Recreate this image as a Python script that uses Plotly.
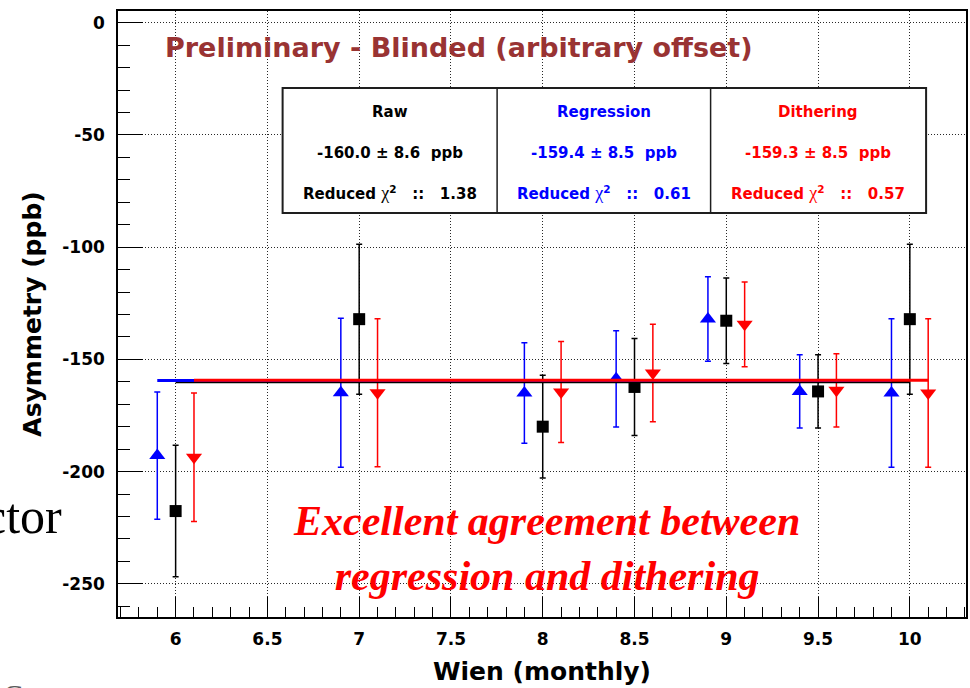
import plotly.graph_objects as go

# Monthly Wien asymmetries (ppb) for the three analyses
months = [6, 7, 8, 8.5, 9, 9.5, 10]

raw_asym = [-217.6, -132.1, -180.0, -162.3, -132.8, -164.3, -132.1]
raw_err = [29.3, 33.4, 22.9, 21.6, 19.0, 16.3, 33.4]

reg_asym = [-192.9, -164.9, -165.0, -158.7, -132.0, -164.3, -165.0]
reg_err = [28.4, 33.2, 22.4, 21.4, 18.8, 16.3, 33.1]

dith_asym = [-193.6, -164.9, -164.5, -156.1, -134.4, -163.8, -165.0]
dith_err = [28.6, 33.0, 22.5, 21.7, 18.9, 16.3, 33.1]

# Constant fits: value, error, reduced chi2
raw_fit, raw_fit_err, raw_chi2 = -160.0, 8.6, 1.38
reg_fit, reg_fit_err, reg_chi2 = -159.4, 8.5, 0.61
dith_fit, dith_fit_err, dith_chi2 = -159.3, 8.5, 0.57

x_tick_vals = [6, 6.5, 7, 7.5, 8, 8.5, 9, 9.5, 10]
x_tick_text = ["6", "6.5", "7", "7.5", "8", "8.5", "9", "9.5", "10"]
y_tick_vals = [0, -50, -100, -150, -200, -250]
y_tick_text = ["0", "-50", "-100", "-150", "-200", "-250"]

SANS = "DejaVu Sans"
SERIF = "Liberation Serif"
BLUE = "rgb(0,0,255)"
RED = "rgb(255,0,0)"
BLACK = "rgb(0,0,0)"
TITLE_RED = "rgb(153,51,51)"

# horizontal shift of the processed series around each month
REG_SHIFT, DITH_SHIFT = -0.1, 0.1

# plot-area geometry in pixels (used to place boxes and labels)
W, H = 970, 688
ML, MR, MT, MB = 118, 2, 11, 71
PW, PH = W - ML - MR, H - MT - MB


def px(x):
    return (x - ML) / PW


def py(y):
    return (H - MB - y) / PH


fig = go.Figure()

series = [
    ("Raw", months, raw_asym, raw_err, BLACK, "square", 12),
    ("Regression", [m + REG_SHIFT for m in months], reg_asym, reg_err, BLUE, "triangle-up", 14),
    ("Dithering", [m + DITH_SHIFT for m in months], dith_asym, dith_err, RED, "triangle-down", 14),
]
for name, xs, ys, es, col, sym, size in series:
    fig.add_trace(go.Scatter(
        x=xs, y=ys, mode="markers", name=name,
        marker=dict(symbol=sym, size=size, color=col, line=dict(width=0)),
        error_y=dict(type="data", array=es, visible=True, color=col,
                     thickness=1.5, width=3),
        showlegend=False,
    ))

fits = [
    (months, raw_fit, BLACK),
    ([m + REG_SHIFT for m in months], reg_fit, BLUE),
    ([m + DITH_SHIFT for m in months], dith_fit, RED),
]
for xs, val, col in fits:
    fig.add_trace(go.Scatter(
        x=[min(xs), max(xs)], y=[val, val], mode="lines",
        line=dict(color=col, width=3), showlegend=False, hoverinfo="skip",
    ))

axis_common = dict(
    showline=True, linecolor=BLACK, linewidth=1.5, mirror=True,
    ticks="inside", tickcolor=BLACK, tickwidth=1,
    showgrid=True, gridcolor="rgb(40,40,40)", griddash="1px,2px", gridwidth=1,
    zeroline=False,
    tickfont=dict(family=SANS, size=17, color=BLACK, weight="bold"),
)

fig.update_xaxes(
    **axis_common,
    range=[5.686, 10.306], tickmode="array",
    tickvals=x_tick_vals, ticktext=x_tick_text, ticklen=20,
    ticklabelstandoff=6,
    minor=dict(dtick=0.1, ticks="inside", ticklen=10, tickcolor=BLACK, showgrid=False),
    title=dict(text="Wien (monthly)", standoff=14,
               font=dict(family=SANS, size=25, color=BLACK, weight="bold")),
)
fig.update_yaxes(
    **axis_common,
    range=[-264.8, 5.2], tickmode="array",
    tickvals=y_tick_vals, ticktext=y_tick_text, ticklen=25,
    ticklabelstandoff=8,
    minor=dict(dtick=10, ticks="inside", ticklen=12, tickcolor=BLACK, showgrid=False),
    title=dict(text="Asymmetry (ppb)", standoff=14,
               font=dict(family=SANS, size=25, color=BLACK, weight="bold")),
)

# fit summary table
box_l, box_r, box_t, box_b = 283, 928, 88, 213
cols = [283, 498, 712, 928]
fig.add_shape(type="rect", xref="paper", yref="paper",
              x0=px(box_l), x1=px(box_r), y0=py(box_b), y1=py(box_t),
              line=dict(color="rgb(30,30,30)", width=2), fillcolor="white", layer="above")
for cx in cols[1:-1]:
    fig.add_shape(type="line", xref="paper", yref="paper",
                  x0=px(cx), x1=px(cx), y0=py(box_b), y1=py(box_t),
                  line=dict(color="rgb(30,30,30)", width=1.5), layer="above")

NB = "\u00a0"
CHI = f'<span style="font-family:{SERIF};font-weight:normal;font-size:18px">χ</span>'
cells = [
    ("Raw", raw_fit, raw_fit_err, raw_chi2, BLACK),
    ("Regression", reg_fit, reg_fit_err, reg_chi2, BLUE),
    ("Dithering", dith_fit, dith_fit_err, dith_chi2, RED),
]
for i, (label, val, err, chi2, col) in enumerate(cells):
    cx = px((cols[i] + cols[i + 1]) / 2)
    lines = [
        (label, 112),
        (f"{val:.1f} ± {err:.1f}{NB}{NB}ppb", 153),
        (f"Reduced{NB}{CHI}<sup>2</sup>{NB}{NB}{NB}::{NB}{NB}{NB}{chi2:.2f}", 193),
    ]
    for text, yy in lines:
        fig.add_annotation(x=cx, y=py(yy), xref="paper", yref="paper",
                           text=text, showarrow=False, xanchor="center", yanchor="middle",
                           font=dict(family=SANS, size=15, color=col, weight="bold"))

fig.add_annotation(x=px(163), y=py(47), xref="paper", yref="paper",
                   text="Preliminary - Blinded (arbitrary offset)", showarrow=False,
                   xanchor="left", yanchor="middle",
                   font=dict(family=SANS, size=27, color=TITLE_RED, weight="bold"))

fig.add_annotation(x=px(548), y=py(548), xref="paper", yref="paper",
                   text="<b><i>Excellent agreement between<br>regression and dithering</i></b>",
                   showarrow=False, xanchor="center", yanchor="middle", align="center",
                   font=dict(family=SERIF, size=42, color=RED, weight="bold", style="italic"))

# fragments of the surrounding slide text
fig.add_annotation(x=px(64), y=py(516), xref="paper", yref="paper",
                   text="ctor", showarrow=False, xanchor="right", yanchor="middle",
                   font=dict(family=SERIF, size=50, color=BLACK))
fig.add_annotation(x=px(1), y=py(676), xref="paper", yref="paper",
                   text="C", showarrow=False, xanchor="left", yanchor="top",
                   font=dict(family=SERIF, size=30, color="rgb(90,90,90)"))

fig.update_layout(
    width=W, height=H,
    margin=dict(l=ML, r=MR, t=MT, b=MB),
    paper_bgcolor="white", plot_bgcolor="white",
)

fig.write_html("out.html")
